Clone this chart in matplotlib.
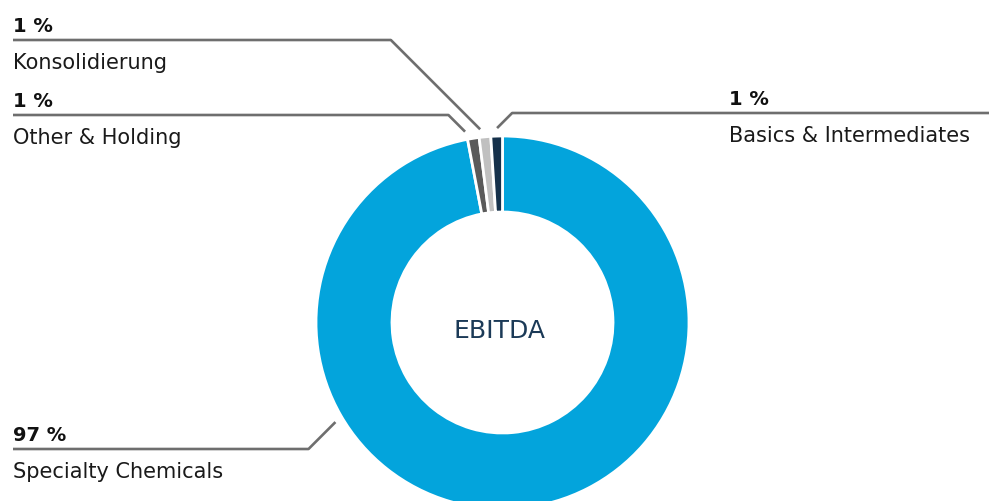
import numpy as np
import matplotlib.pyplot as plt

# EBITDA share by segment
segments = ['Specialty Chemicals', 'Other & Holding', 'Konsolidierung', 'Basics & Intermediates']
shares = [97, 1, 1, 1]
pct_labels = ['97 %', '1 %', '1 %', '1 %']
colors = ['#03a4dc', '#5a5a5a', '#c0c0c0', '#15314b']

W, H = 994, 502
cx, cy = 502.5, H - 323.5
R = 186.5
ring = 76

plt.rcParams['font.family'] = ['DejaVu Sans']

fig = plt.figure(figsize=(W / 100, H / 100), dpi=100)
ax = fig.add_axes([0, 0, 1, 1])

wedges, _ = ax.pie(shares, colors=colors, startangle=90, counterclock=False,
                   center=(cx, cy), radius=R,
                   wedgeprops=dict(width=ring, edgecolor='white', linewidth=2))
ax.set_xlim(0, W)
ax.set_ylim(0, H)
ax.set_aspect('equal')
ax.axis('off')

ax.text(cx - 3, H - 331, 'EBITDA', ha='center', va='center', fontsize=18, color='#1b3a57')

# label layout: (leader angle, text x, line y from top, line end x, side)
layout = {
    'Specialty Chemicals':    (210.8, 13, 450, 13, 'left'),
    'Other & Holding':        (101.1, 13, 116, 13, 'left'),
    'Konsolidierung':         (96.6, 13, 41, 13, 'left'),
    'Basics & Intermediates': (91.6, 729, 114, 989, 'right'),
}
line_col = '#6e6e6e'
for seg, pct in zip(segments, pct_labels):
    ang, tx, ly, lx, side = layout[seg]
    ex = cx + (R + 8) * np.cos(np.radians(ang))
    ey = cy + (R + 8) * np.sin(np.radians(ang))
    ly = H - ly
    d = abs(ly - ey)
    bx = ex - d if side == 'left' else ex + d
    ax.plot([ex, bx, lx], [ey, ly, ly], color=line_col, lw=1.9, solid_capstyle='butt')
    ax.text(tx, ly + 9, pct, ha='left', va='baseline', fontsize=14, fontweight='bold', color='#111111')
    ax.text(tx, ly - 28, seg, ha='left', va='baseline', fontsize=15, color='#1a1a1a')

fig.savefig('out.png', dpi=100)
